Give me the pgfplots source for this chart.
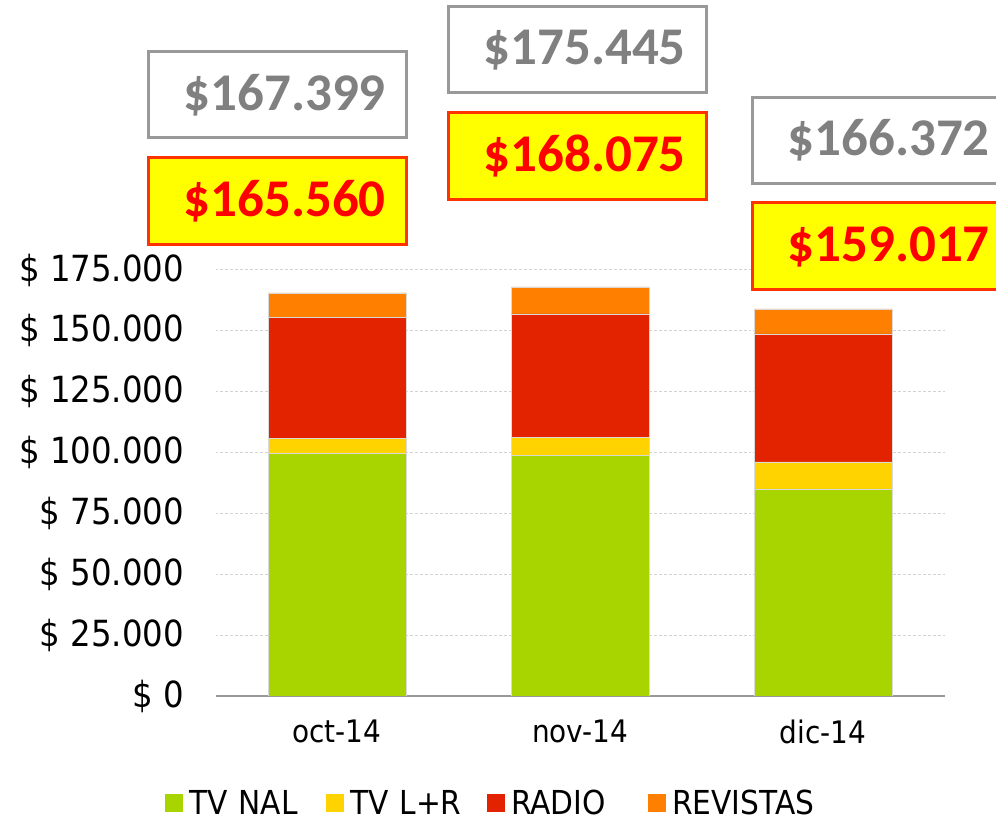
\documentclass[border=0pt]{standalone}
\usepackage{pgfplots}
\pgfplotsset{compat=1.18}
\usepackage{fontspec}
\setmainfont{DejaVu Sans Condensed}
\newfontfamily\boxfont{Carlito}
\definecolor{cNAL}{HTML}{A8D400}
\definecolor{cLR}{HTML}{FFD300}
\definecolor{cRAD}{HTML}{E32300}
\definecolor{cREV}{HTML}{FF7F00}
\definecolor{gbord}{HTML}{999999}
\definecolor{gtext}{HTML}{808080}
\definecolor{ybord}{HTML}{FF3300}
\definecolor{yfill}{HTML}{FFFF00}
\definecolor{rtext}{HTML}{FF0000}
\begin{document}
\begin{tikzpicture}
\useasboundingbox (0,0) rectangle (996bp,821bp);
\clip (0,0) rectangle (996bp,821bp);
\begin{axis}[
  at={(215.5bp,125bp)}, anchor=south west,
  scale only axis, width=729bp, height=426bp,
  ybar stacked, bar width=138bp,
  xmin=-0.5, xmax=2.5, ymin=0, ymax=175000,
  enlargelimits=false,
  xtick={0,1,2}, xticklabels={oct-14,nov-14,dic-14},
  ytick={0,25000,50000,75000,100000,125000,150000,175000},
  scaled y ticks=false,
  yticklabel={\$ \pgfmathprintnumber[fixed,precision=0,1000 sep={.}]{\tick}},
  /pgf/number format/assume math mode=true,
  yticklabel style={font=\fontsize{36bp}{40bp}\selectfont, xshift=-28bp},
  xticklabel style={font=\fontsize{31bp}{36bp}\selectfont, yshift=-20bp},
  major tick length=0pt,
  axis lines*=left, axis line style={-},
  y axis line style={draw=none},
  x axis line style={draw=gray!80, line width=1.5bp},
  ymajorgrids, grid style={densely dashed, gray!35, line width=1bp},
  every axis plot/.append style={draw=white!85!black, line width=0.5bp},
  legend columns=4,
  legend image code/.code={\fill[#1, draw=none] (0bp,-9bp) rectangle (18bp,9bp);},
  legend style={at={(-0.0693,-0.251)}, anchor=west, draw=none, inner sep=0pt,
    font=\fontsize{33bp}{38bp}\selectfont,
    nodes={inner xsep=3bp, text width=134bp, align=left},
    /tikz/every odd column/.append style={column sep=3bp},
    /tikz/every even column/.append style={column sep=0bp}},
]
\addplot[fill=cNAL] coordinates {(0,99630) (1,98970) (2,85115)};
\addplot[fill=cLR] coordinates {(0,6330) (1,7400) (2,11100)};
\addplot[fill=cRAD] coordinates {(0,49590) (1,50580) (2,52510)};
\addplot[fill=cREV] coordinates {(0,10010) (1,11125) (2,10292)};
\legend{TV NAL, TV L+R, RADIO, REVISTAS}
\end{axis}
% boxes
\foreach \cx/\cy/\txt in {277/726/\$167.399, 577/771/\$175.445, 881/680.5/\$166.372}{
  \draw[gbord, line width=3bp, fill=white] (\cx bp-129bp,\cy bp-43bp) rectangle (\cx bp+129bp,\cy bp+43bp);
  \node[anchor=east, text=gtext, font=\boxfont\bfseries\fontsize{53bp}{60bp}\selectfont, inner sep=0pt] at (\cx bp+109bp,\cy bp) {\txt};
}
\foreach \cx/\cy/\txt in {277/619.5/\$165.560, 577/665/\$168.075, 881/574.5/\$159.017}{
  \draw[ybord, line width=3bp, fill=yfill] (\cx bp-129bp,\cy bp-43.5bp) rectangle (\cx bp+129bp,\cy bp+43.5bp);
  \node[anchor=east, text=rtext, font=\boxfont\bfseries\fontsize{53bp}{60bp}\selectfont, inner sep=0pt] at (\cx bp+109bp,\cy bp) {\txt};
}
\end{tikzpicture}
\end{document}
